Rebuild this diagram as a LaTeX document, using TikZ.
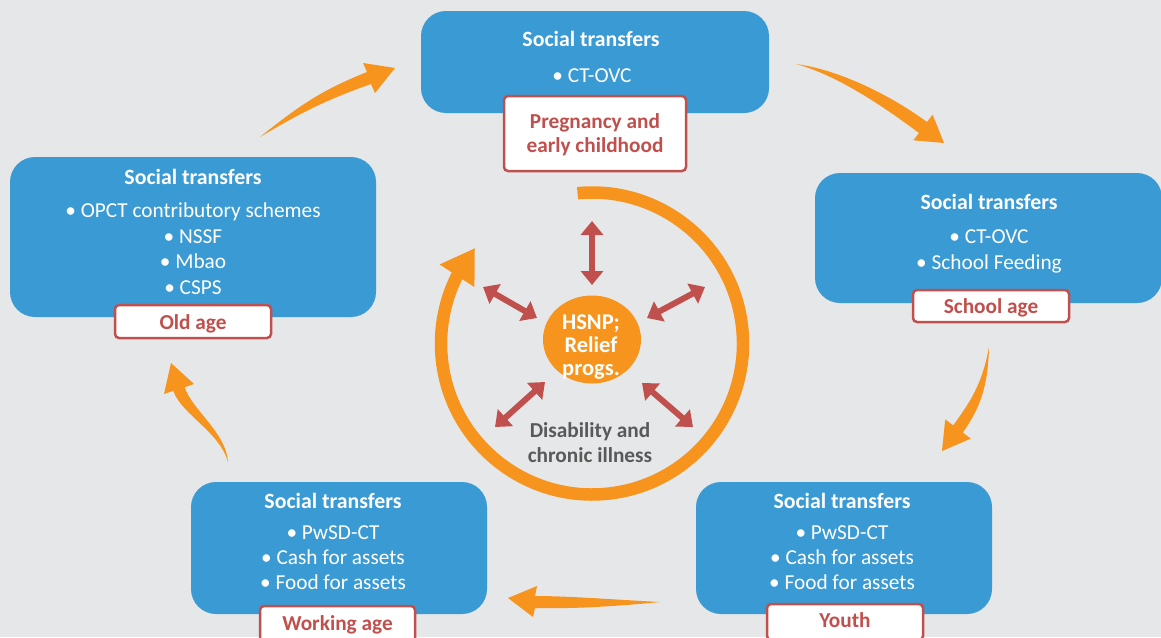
\documentclass[tikz,border=0pt]{standalone}
\usepackage{fontspec}
\setmainfont{Carlito}
\usetikzlibrary{arrows.meta,bending,shapes.geometric}
\definecolor{bg}{HTML}{E6E7E8}
\definecolor{boxblue}{HTML}{3A9AD4}
\definecolor{lblred}{HTML}{C0504D}
\definecolor{orng}{HTML}{F7941D}
\definecolor{greytxt}{HTML}{595959}
\tikzset{
 bluebox/.style={fill=boxblue, rounded corners=25pt, inner sep=0pt},
 lbl/.style={draw=lblred, fill=white, line width=2.5pt, rounded corners=4pt, inner sep=0pt},
 hdr/.style={anchor=base, font=\fontsize{21.8}{25}\selectfont\bfseries, text=white, inner sep=0pt},
 itm/.style={anchor=base, font=\fontsize{21.3}{25}\selectfont, text=white, inner sep=0pt},
 lbltxt/.style={anchor=base, font=\fontsize{21.3}{24}\selectfont\bfseries, text=lblred, inner sep=0pt},
 redarr/.style={draw=lblred, line width=6pt, {Triangle[width=22pt,length=14pt]}-{Triangle[width=22pt,length=14pt]}},
 flow/.style={fill=orng},
 hubtxt/.style={anchor=base, font=\fontsize{22.5}{23}\selectfont\bfseries, text=white, inner sep=0pt},
 distxt/.style={anchor=base, font=\fontsize{21.3}{25}\selectfont\bfseries, text=greytxt, inner sep=0pt},
}
\begin{document}
\begin{tikzpicture}[x=1pt,y=1pt]
\useasboundingbox (0,0) rectangle (1161,-637);
\fill[bg] (0,0) rectangle (1161,-637);

% blue boxes
\node[bluebox, minimum width=348pt, minimum height=102pt] (topbox) at (595,-62) {};
\node[bluebox, minimum width=366pt, minimum height=160pt] (leftbox) at (193,-237) {};
\node[bluebox, minimum width=347pt, minimum height=130pt] (rightbox) at (988.5,-238) {};
\node[bluebox, minimum width=296pt, minimum height=132pt] (blbox) at (339,-548) {};
\node[bluebox, minimum width=296pt, minimum height=132pt] (brbox) at (844,-548) {};

% box texts
\node[hdr] (toph) at (591,-46) {Social transfers};
\node[itm] (topi1) at (592,-82) {• CT-OVC};

\node[hdr] (lefth) at (193,-184.5) {Social transfers};
\node[itm] (lefti1) at (193,-217.5) {• OPCT contributory schemes};
\node[itm] (lefti2) at (193,-243) {• NSSF};
\node[itm] (lefti3) at (193,-268.5) {• Mbao};
\node[itm] (lefti4) at (193,-294) {• CSPS};

\node[hdr] (righth) at (989,-209) {Social transfers};
\node[itm] (righti1) at (989,-243.5) {• CT-OVC};
\node[itm] (righti2) at (989,-269.5) {• School Feeding};

\node[hdr] (blh) at (333,-508.5) {Social transfers};
\node[itm] (bli1) at (333,-539) {• PwSD-CT};
\node[itm] (bli2) at (333,-564) {• Cash for assets};
\node[itm] (bli3) at (333,-589) {• Food for assets};

\node[hdr] (brh) at (842,-508.5) {Social transfers};
\node[itm] (bri1) at (842,-539) {• PwSD-CT};
\node[itm] (bri2) at (842,-564) {• Cash for assets};
\node[itm] (bri3) at (842,-589) {• Food for assets};

% age labels
\node[lbl, minimum width=182pt, minimum height=75pt] (toplbl) at (595,-133.5) {};
\node[lbltxt] (toplt1) at (595,-128.5) {Pregnancy and};
\node[lbltxt] (toplt2) at (595,-152.5) {early childhood};
\node[lbl, minimum width=156pt, minimum height=33pt] (leftlbl) at (193,-321.5) {};
\node[lbltxt] (leftlt) at (193,-329) {Old age};
\node[lbl, minimum width=156pt, minimum height=32pt] (rightlbl) at (991,-306) {};
\node[lbltxt] (rightlt) at (991,-313) {School age};
\node[lbl, minimum width=155pt, minimum height=38pt] (bllbl) at (337.5,-625) {};
\node[lbltxt] (bllt) at (337.5,-630.5) {Working age};
\node[lbl, minimum width=156pt, minimum height=36pt] (brlbl) at (845,-622) {};
\node[lbltxt] (brlt) at (845,-627) {Youth};

% tapered orange arrows
\fill[flow] (260,-137) .. controls (300,-105) and (322,-90) .. (367,-72) -- (363,-63) -- (395,-68) -- (375,-93) -- (371,-84) .. controls (326,-100) and (302,-112) .. cycle;
\fill[flow] (796,-64) .. controls (841,-70) and (893,-97) .. (927,-122) -- (932.6,-114.7) -- (944,-143) -- (913.4,-140.3) -- (919,-133) .. controls (888,-110) and (840,-76) .. cycle;
\fill[flow] (989,-347) .. controls (988,-387) and (980,-408) .. (962.8,-432.6) -- (970.8,-438.6) -- (942,-451) -- (945.2,-419.4) -- (953.2,-425.4) .. controls (970,-402) and (982,-385) .. cycle;
\fill[flow] (660,-602) .. controls (620,-600) and (570,-596) .. (535,-596) -- (537,-586) -- (508,-598) -- (533,-617) -- (535,-608) .. controls (575,-609) and (620,-606) .. cycle;
\fill[flow] (228,-462) .. controls (226,-432) and (192,-410) .. (184.7,-387.2) -- (194,-384) -- (171,-363) -- (164,-394) -- (173.3,-390.8) .. controls (181,-414) and (220,-432) .. cycle;

% ring arrow
\coordinate (ringc) at (592,-343.5);
\draw[orng, line width=12.5pt, -{Triangle[width=39pt,length=33pt,flex]}] (ringc) ++(95.5:151) arc[start angle=95.5, end angle=-219.2, radius=151];

% centre
\node[ellipse, fill=orng, minimum width=98pt, minimum height=88pt, inner sep=0pt] (hub) at (592,-339.5) {};
\node[hubtxt] (hubt1) at (591,-329) {HSNP;};
\node[hubtxt] (hubt2) at (591,-352.5) {Relief};
\node[hubtxt] (hubt3) at (591,-375) {progs.};

\node[distxt] (dis1) at (590,-437) {Disability and};
\node[distxt] (dis2) at (590,-462.5) {chronic illness};

% red double arrows
\coordinate (u1) at (592,-221); \coordinate (u2) at (592,-285);
\coordinate (ul1) at (483,-287); \coordinate (ul2) at (537,-318);
\coordinate (ur1) at (647,-318); \coordinate (ur2) at (705,-287);
\coordinate (ll1) at (495,-427); \coordinate (ll2) at (545,-382);
\coordinate (lr1) at (642,-383); \coordinate (lr2) at (693,-427);
\draw[redarr] (u1) -- (u2);
\draw[redarr] (ul1) -- (ul2);
\draw[redarr] (ur1) -- (ur2);
\draw[redarr] (ll1) -- (ll2);
\draw[redarr] (lr1) -- (lr2);
\end{tikzpicture}
\end{document}
